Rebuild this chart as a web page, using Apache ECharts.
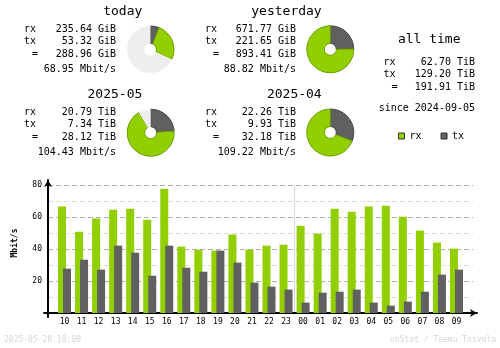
<!DOCTYPE html>
<html>
<head>
<meta charset="utf-8">
<script src="https://cdn.jsdelivr.net/npm/echarts@6/dist/echarts.min.js"></script>
<style>
html,body{margin:0;padding:0;background:#fff;}
#c{width:500px;height:348px;}
</style>
</head>
<body>
<div id="c"></div>
<script>
// ---- data ----
const hours = ['10','11','12','13','14','15','16','17','18','19','20','21','22','23','00','01','02','03','04','05','06','07','08','09'];
const rxRate = [66.5,50.8,59.0,64.6,65.2,58.3,77.7,41.5,39.6,39.0,49.0,39.6,42.1,42.7,54.6,49.6,65.2,63.3,66.5,67.1,60.2,51.5,44.0,40.2];
const txRate = [27.7,33.3,27.1,42.1,37.7,23.3,42.1,28.3,25.8,39.0,31.5,19.0,16.5,14.6,6.5,12.7,13.3,14.6,6.5,4.6,7.1,13.3,24.0,27.1];
const yTicks = [20,40,60,80];
const hourEdges = hours.concat(['10']); // boundaries between hour bands
const midnightEdge = hours.indexOf('00');

const periods = ['today','yesterday','2025-05','2025-04'];
const periodRx = [235.64, 671.77, 20.79, 22.26];
const periodTx = [53.32, 221.65, 7.34, 9.93];
const periodTotal = [288.96, 893.41, 28.12, 32.18];
const periodUnit = ['GiB','GiB','TiB','TiB'];
const periodRate = [68.95, 88.82, 104.43, 109.22];
const periodRest = [620, 0, 2.6, 0]; // estimated unused part of the pie

const allTimeTitle = 'all time';
const allTimeRx = 62.70, allTimeTx = 129.20, allTimeTotal = 191.91;
const allTimeUnit = 'TiB';
const sinceDate = '2024-09-05';
const stamp = '2025-05-28 10:00';
const credit = 'vnStat / Teemu Toivola';
const yName = 'Mbit/s';

// ---- styles ----
const RX = '#92CF00', TX = '#606060', REST = '#EEEEEE';
const MONO = '"DejaVu Sans Mono"';
const layout = [
  {lx:24,  vr:116,   tr:142.3, ty:11.5, pc:[150.5,49.5]},
  {lx:205, vr:296,   tr:321.7, ty:11.5, pc:[330.3,49.3]},
  {lx:24,  vr:116,   tr:142.3, ty:94.5, pc:[150.7,132.7]},
  {lx:205, vr:296,   tr:321.7, ty:94.5, pc:[330.3,132.5]}
];

function txt(text, x, y, size, align, opts) {
  opts = opts || {};
  return {
    type:'text', x:x, y:y, rotation: opts.rot || 0, silent:true,
    style:{
      text:text, fill: opts.color || '#000',
      font: (opts.bold ? 'bold ' : '') + size + 'px ' + MONO,
      align:align, textAlign:align, verticalAlign:'middle', textVerticalAlign:'middle'
    }
  };
}

const graphics = [];
periods.forEach((p, i) => {
  const L = layout[i];
  const y0 = L.ty;
  graphics.push(txt(p, L.tr, y0, 13, 'right'));
  graphics.push(txt('rx', L.lx, y0 + 17.5, 10, 'left'));
  graphics.push(txt('tx', L.lx, y0 + 30.2, 10, 'left'));
  graphics.push(txt('=', L.lx + 8, y0 + 42.8, 10, 'left'));
  graphics.push(txt(periodRx[i].toFixed(2) + ' ' + periodUnit[i], L.vr, y0 + 17.5, 10, 'right'));
  graphics.push(txt(periodTx[i].toFixed(2) + ' ' + periodUnit[i], L.vr, y0 + 30.2, 10, 'right'));
  graphics.push(txt(periodTotal[i].toFixed(2) + ' ' + periodUnit[i], L.vr, y0 + 42.8, 10, 'right'));
  graphics.push(txt(periodRate[i].toFixed(2) + ' Mbit/s', L.vr, y0 + 57.5, 10, 'right'));
});
graphics.push(txt(allTimeTitle, 460.5, 39.3, 13, 'right'));
graphics.push(txt('rx', 383.5, 62.5, 10, 'left'));
graphics.push(txt('tx', 383.5, 74.8, 10, 'left'));
graphics.push(txt('=', 391.5, 87.2, 10, 'left'));
graphics.push(txt(allTimeRx.toFixed(2) + ' ' + allTimeUnit, 475, 62.5, 10, 'right'));
graphics.push(txt(allTimeTx.toFixed(2) + ' ' + allTimeUnit, 475, 74.8, 10, 'right'));
graphics.push(txt(allTimeTotal.toFixed(2) + ' ' + allTimeUnit, 475, 87.2, 10, 'right'));
graphics.push(txt('since ' + sinceDate, 475, 108.3, 10, 'right'));
graphics.push(txt(yName, 14.5, 243, 8, 'center', {bold:true, rot:Math.PI/2}));
graphics.push(txt(stamp, 4, 340, 8, 'left', {color:'#D6D6D6'}));
graphics.push(txt(credit, 496, 340, 8, 'right', {color:'#D6D6D6'}));

const pieSeries = periods.map((p, i) => {
  const data = [
    {name:'tx', value:periodTx[i], itemStyle:{color:TX, borderColor:'#474747', borderWidth:1}},
    {name:'rx', value:periodRx[i], itemStyle:{color:RX, borderColor:'#6E9E00', borderWidth:1}}
  ];
  if (periodRest[i] > 0) data.push({name:'rest', value:periodRest[i], itemStyle:{color:REST, borderWidth:0}});
  return {
    type:'pie', name:p, center:layout[i].pc, radius:[6,23.5], startAngle:90, clockwise:true,
    silent:true, label:{show:false}, labelLine:{show:false}, emphasis:{disabled:true},
    data:data
  };
});

const chart = echarts.init(document.getElementById('c'), null, {renderer:'canvas'});
chart.setOption({
  animation:false,
  backgroundColor:'#fff',
  textStyle:{fontFamily:MONO},
  legend:{
    data:['rx','tx'], left:398, top:131, padding:0, itemWidth:6, itemHeight:6, itemGap:19,
    icon:'rect', selectedMode:false,
    itemStyle:{borderColor:'#333', borderWidth:1},
    textStyle:{fontFamily:MONO, fontSize:10, color:'#000'}
  },
  grid:[
    {left:56, right:35, top:185, bottom:35},
    {left:48, right:27, top:185, bottom:35},
    {left:44, right:23, top:180, bottom:31}
  ],
  xAxis:[
    {type:'category', gridIndex:0, data:hours, boundaryGap:true,
     axisLine:{show:false}, axisTick:{show:false},
     axisLabel:{fontFamily:MONO, fontSize:8, color:'#000', margin:5, interval:0},
     splitLine:{show:false}},
    {type:'value', gridIndex:1, min:0, max:1, show:false},
    {type:'value', gridIndex:2, min:-4, max:429, axisLabel:{show:false}, axisTick:{show:false}, splitLine:{show:false},
     axisLine:{show:true, onZero:true, symbol:['none','arrow'], symbolSize:[6,7], lineStyle:{color:'#000', width:2}}},
    {type:'category', gridIndex:0, data:hourEdges, boundaryGap:false,
     axisLine:{show:false}, axisTick:{show:false}, axisLabel:{show:false},
     splitLine:{show:true, interval:(idx) => idx === midnightEdge, lineStyle:{color:'#D8D8D8', width:1}}}
  ],
  yAxis:[
    {type:'value', gridIndex:0, min:0, max:80, show:false},
    {type:'value', gridIndex:1, min:0, max:80, interval:10,
     axisLine:{show:false}, axisTick:{show:false},
     axisLabel:{fontFamily:MONO, fontSize:8, color:'#000', margin:6,
       formatter:(v) => yTicks.indexOf(v) >= 0 ? String(v) : ''},
     splitLine:{show:true, lineStyle:{color:['#AFAFAF','#DDDDDD'], width:1, type:[5,3]}}},
    {type:'value', gridIndex:2, min:-4, max:133, axisLabel:{show:false}, axisTick:{show:false}, splitLine:{show:false},
     axisLine:{show:true, onZero:true, symbol:['none','arrow'], symbolSize:[6,7], lineStyle:{color:'#000', width:2}}}
  ],
  series:[
    {type:'bar', name:'rx', xAxisIndex:0, yAxisIndex:0, data:rxRate, barWidth:8, barGap:'-37.5%',
     itemStyle:{color:RX}, silent:true},
    {type:'bar', name:'tx', xAxisIndex:0, yAxisIndex:0, data:txRate, barWidth:8, barGap:'-37.5%',
     itemStyle:{color:TX}, silent:true}
  ].concat(pieSeries),
  graphic:graphics
});
</script>
</body>
</html>
